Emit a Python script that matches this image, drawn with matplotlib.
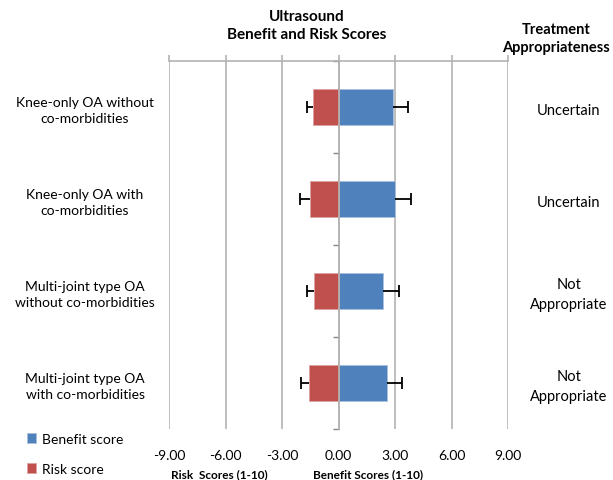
import numpy as np
import matplotlib.pyplot as plt
from matplotlib.transforms import blended_transform_factory

plt.rcParams["font.family"] = ["Lato", "DejaVu Sans"]

# Values
categories = [
    "Knee-only OA without\nco-morbidities",
    "Knee-only OA with\nco-morbidities",
    "Multi-joint type OA\nwithout co-morbidities",
    "Multi-joint type OA\nwith co-morbidities",
]
benefit = [2.87, 3.00, 2.38, 2.57]
benefit_err = [0.83, 0.83, 0.85, 0.78]
risk = [-1.38, -1.50, -1.28, -1.58]
risk_err = [0.29, 0.56, 0.41, 0.40]
appropriateness = ["Uncertain", "Uncertain", "Not\nAppropriate", "Not\nAppropriate"]
xticks = [-9, -6, -3, 0, 3, 6, 9]

blue = "#4f81bd"
red = "#c0504d"
grid_gray = "#b3b3b3"

fig = plt.figure(figsize=(6.13, 4.81), dpi=100)
ax = fig.add_axes([169 / 613, 1 - 430 / 481, 339 / 613, 368 / 481])

y = np.arange(len(categories))
b_benefit = ax.barh(y, benefit, height=0.4, color=blue, edgecolor="#a9c0de",
                    linewidth=0.6, label="Benefit score", zorder=2)
b_risk = ax.barh(y, risk, height=0.4, color=red, edgecolor="#dba3a1",
                 linewidth=0.6, label="Risk score", zorder=2)

# one-sided error bars, cap only at the outer end
zeros = np.zeros(len(y))
_, caps, _ = ax.errorbar(benefit, y, xerr=[zeros, benefit_err], fmt="none",
                         ecolor="black", elinewidth=1.3, capsize=4, capthick=1.3, zorder=3)
caps[0].set_visible(False)
_, caps, _ = ax.errorbar(risk, y, xerr=[risk_err, zeros], fmt="none",
                         ecolor="black", elinewidth=1.3, capsize=4, capthick=1.3, zorder=3)
caps[1].set_visible(False)

ax.set_xlim(-9, 9)
ax.set_ylim(len(categories) - 0.5, -0.5)
ax.set_xticks(xticks)
ax.set_xticklabels(["%.2f" % v for v in xticks])
ax.xaxis.grid(True, color=grid_gray, linewidth=1.2)
ax.set_axisbelow(True)
ax.tick_params(axis="x", top=True, bottom=False, labeltop=False, labelbottom=True,
               direction="out", length=4, width=1.2, color=grid_gray, pad=10.5,
               labelsize=10, labelcolor="black")

ax.spines["bottom"].set_visible(False)
ax.spines["right"].set_visible(False)
ax.spines["top"].set_color(grid_gray)
ax.spines["top"].set_linewidth(1.2)
ax.spines["left"].set_position(("data", 0))
ax.spines["left"].set_color(grid_gray)
ax.spines["left"].set_linewidth(1.2)
ax.spines["left"].set_zorder(4)
ax.set_yticks([])
ax.set_yticks(np.arange(-0.5, len(categories)), minor=True)
ax.tick_params(axis="y", which="minor", direction="out", length=4, width=1,
               color="#888888", labelleft=False)

# category labels on the left and appropriateness on the right
trans = blended_transform_factory(fig.transFigure, ax.transData)
for yi, cat, app in zip(y, categories, appropriateness):
    ax.text(85 / 613, yi + 0.03, cat, transform=trans, ha="center", va="center",
            fontsize=10, linespacing=1.45)
    ax.text(569 / 613, yi + 0.03, app, transform=trans, ha="center", va="center",
            fontsize=10.5, linespacing=1.5)

fig.text(307 / 613, 1 - 26 / 481, "Ultrasound\nBenefit and Risk Scores", ha="center",
         va="center", fontsize=11, fontweight="bold", linespacing=1.35)
fig.text(556 / 613, 1 - 39 / 481, "Treatment\nAppropriateness", ha="center",
         va="center", fontsize=10.5, fontweight="bold", linespacing=1.35)
fig.text(219 / 613, 1 - 475 / 481, "Risk  Scores (1-10)", ha="center", va="center",
         fontsize=8.5, fontweight="bold")
fig.text(368 / 613, 1 - 475 / 481, "Benefit Scores (1-10)", ha="center", va="center",
         fontsize=8.5, fontweight="bold")

fig.legend(handles=[b_benefit, b_risk], loc="center left",
           bbox_to_anchor=(14 / 613, 1 - 455 / 481), frameon=False, fontsize=10,
           handlelength=0.7, handleheight=0.7, handletextpad=0.4, labelspacing=1.3)

fig.savefig("out.png", dpi=100)
